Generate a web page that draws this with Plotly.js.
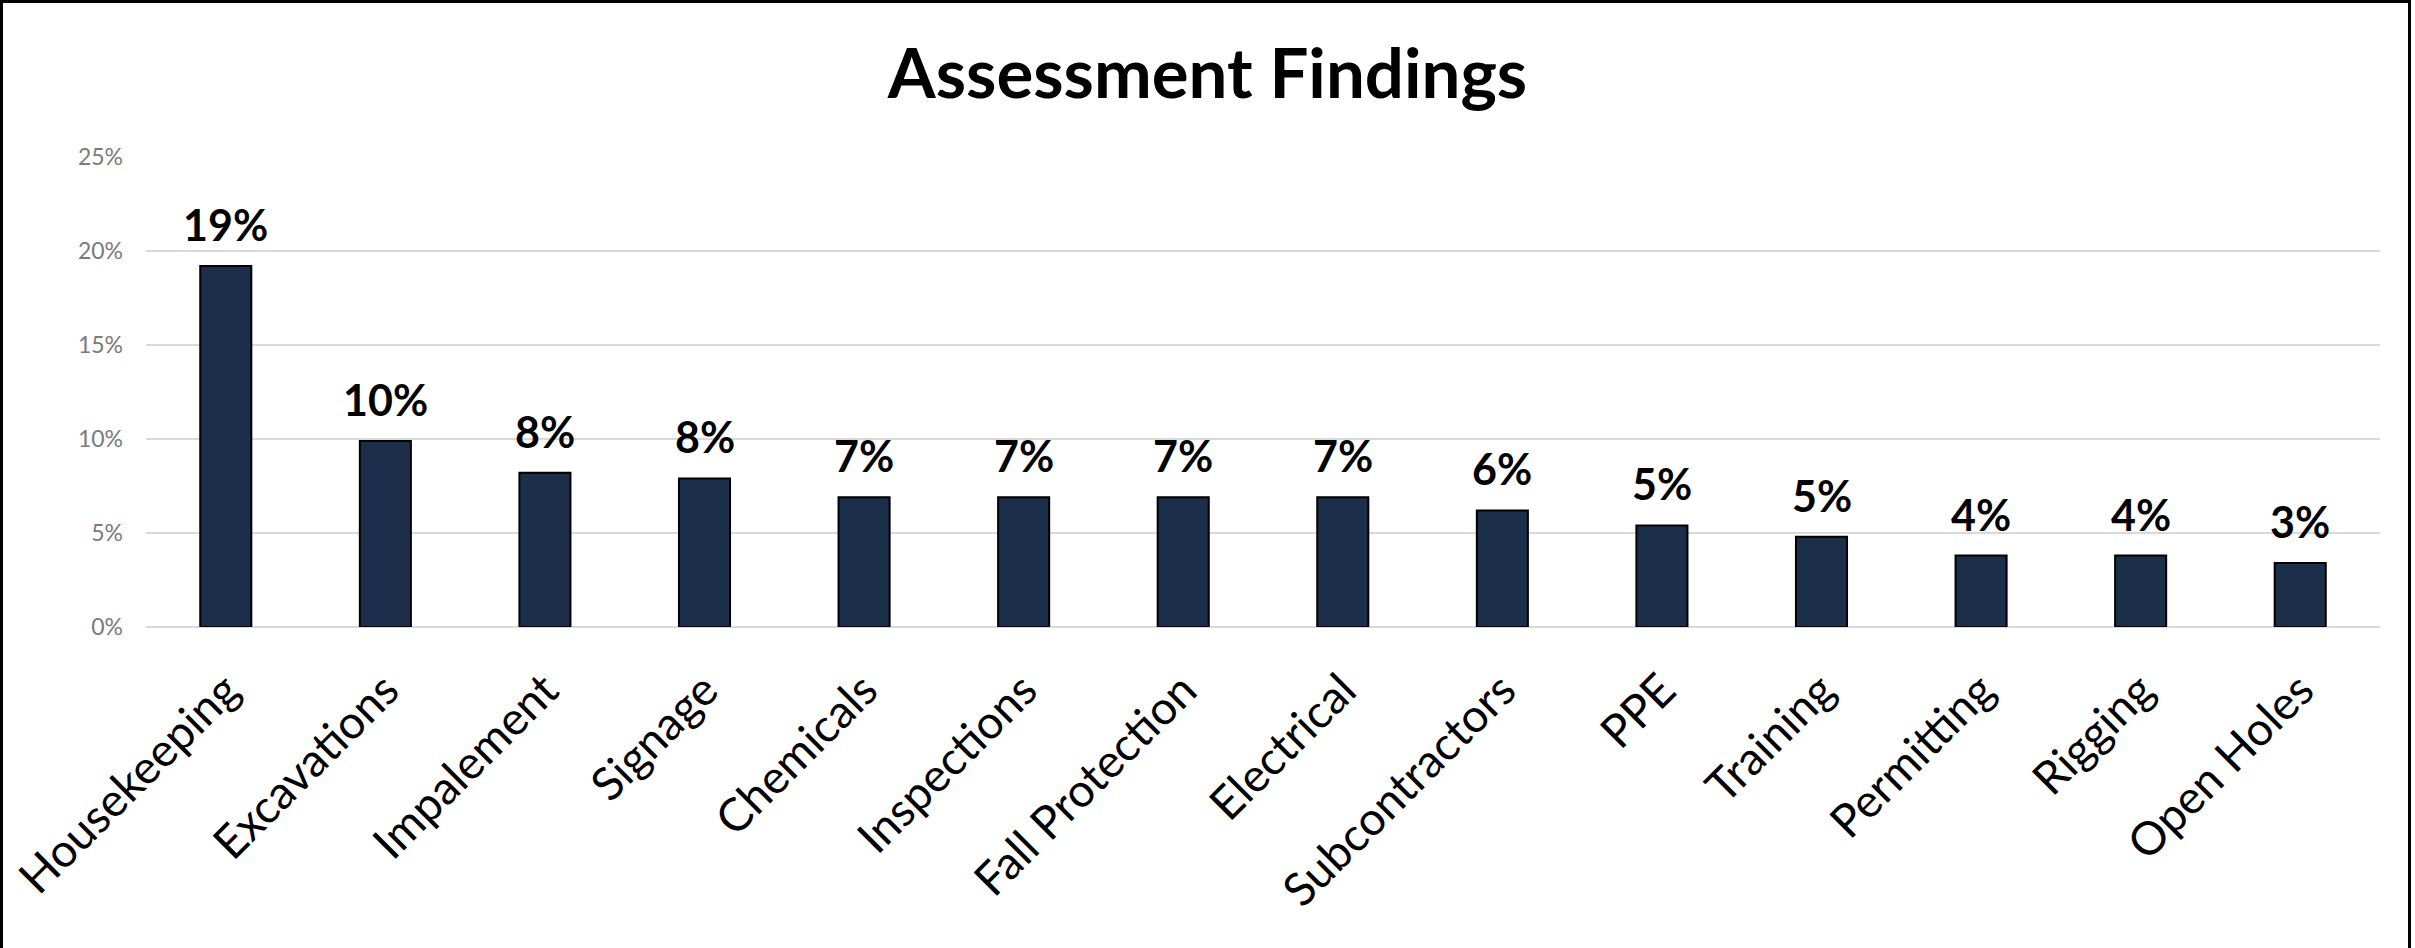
<!DOCTYPE html>
<html>
<head>
<meta charset="utf-8">
<script src="https://cdn.plot.ly/plotly-3.0.1.min.js"></script>
<style>
  html, body { margin: 0; padding: 0; background: #ffffff; overflow: hidden; }
  #wrap { position: relative; width: 2415px; height: 948px; }
  #chart { position: absolute; left: 0; top: 0; width: 2415px; height: 948px; }
  #frame { position: absolute; left: 0; top: 0; width: 2405px; height: 960px;
           border: 3px solid #000; pointer-events: none; box-sizing: content-box; }
</style>
</head>
<body>
<div id="wrap">
  <div id="chart"></div>
  <div id="frame"></div>
</div>
<script>
// Data
const categories = ["Housekeeping", "Excavations", "Impalement", "Signage", "Chemicals",
  "Inspections", "Fall Protection", "Electrical", "Subcontractors", "PPE",
  "Training", "Permitting", "Rigging", "Open Holes"];
const shares = [0.192, 0.099, 0.082, 0.079, 0.069, 0.069, 0.069, 0.069, 0.062, 0.054,
  0.048, 0.038, 0.038, 0.034];
const yTickValues = [0, 0.05, 0.10, 0.15, 0.20, 0.25];
const chartTitle = "Assessment Findings";

const FONT = "Lato, 'Open Sans', 'DejaVu Sans', sans-serif";

const trace = {
  type: "bar",
  x: categories,
  y: shares,
  marker: { color: "#1c2f4a", line: { color: "#000000", width: 2 } },
  hoverinfo: "skip"
};

const annotations = categories.map((c, i) => ({
  x: c,
  y: shares[i],
  xref: "x",
  yref: "y",
  text: Math.round(shares[i] * 100) + "%",
  showarrow: false,
  yanchor: "bottom",
  yshift: 14,
  font: { family: FONT, size: 43, color: "#000000", weight: 700 }
}));

const layout = {
  width: 2415,
  height: 948,
  paper_bgcolor: "#ffffff",
  plot_bgcolor: "#ffffff",
  margin: { l: 146, r: 35, t: 157, b: 321, autoexpand: false },
  title: {
    text: "<b>" + chartTitle + "</b>",
    x: 0.5, xanchor: "center", xref: "container",
    y: 0.922, yanchor: "middle", yref: "container",
    font: { family: FONT, size: 69, color: "#000000" }
  },
  bargap: 0.68,
  showlegend: false,
  xaxis: {
    type: "category",
    tickangle: -45,
    tickfont: { family: FONT, size: 46, color: "#000000" },
    showgrid: false,
    showline: false,
    zeroline: false,
    ticks: "",
    ticklabelstandoff: 26,
    automargin: false
  },
  yaxis: {
    range: [0, 0.25],
    tickvals: yTickValues,
    tickformat: ".0%",
    tickfont: { family: FONT, size: 23, color: "#7a7a7a" },
    showgrid: true,
    gridcolor: "#d9d9d9",
    gridwidth: 2,
    zeroline: true,
    zerolinecolor: "#d9d9d9",
    zerolinewidth: 2,
    showline: false,
    ticks: "",
    ticklabelstandoff: 22,
    automargin: false,
    fixedrange: true
  },
  annotations: annotations
};

Plotly.newPlot("chart", [trace], layout, { displayModeBar: false, staticPlot: true });
</script>
</body>
</html>
